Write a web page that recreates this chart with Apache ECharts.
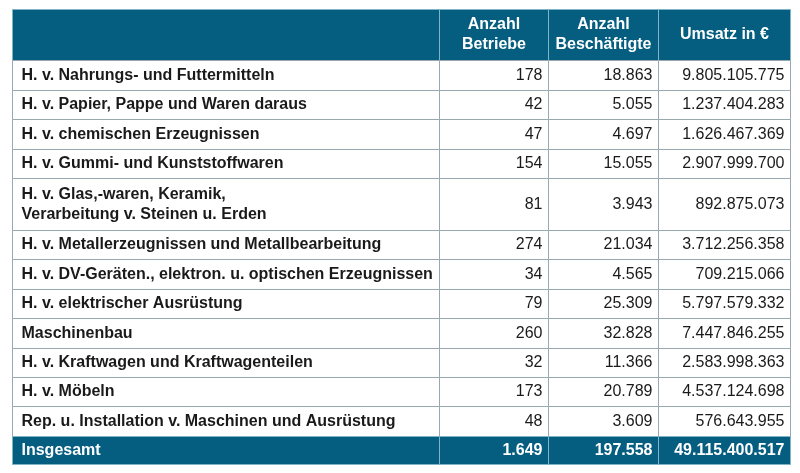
<!DOCTYPE html>
<html><head><meta charset="utf-8">
<script src="https://cdn.jsdelivr.net/npm/echarts@6/dist/echarts.min.js"></script>
<style>html,body{margin:0;padding:0;background:#fff}#c{width:800px;height:473px}</style>
</head><body><div id="c"></div>
<script>
// ---- data ----
const headers = ["", "Anzahl\nBetriebe", "Anzahl\nBeschäftigte", "Umsatz in €"];
const categories = [
  "H. v. Nahrungs- und Futtermitteln",
  "H. v. Papier, Pappe und Waren daraus",
  "H. v. chemischen Erzeugnissen",
  "H. v. Gummi- und Kunststoffwaren",
  "H. v. Glas,-waren, Keramik,\nVerarbeitung v. Steinen u. Erden",
  "H. v. Metallerzeugnissen und Metallbearbeitung",
  "H. v. DV-Geräten., elektron. u. optischen Erzeugnissen",
  "H. v. elektrischer Ausrüstung",
  "Maschinenbau",
  "H. v. Kraftwagen und Kraftwagenteilen",
  "H. v. Möbeln",
  "Rep. u. Installation v. Maschinen und Ausrüstung"
];
const betriebe = [178, 42, 47, 154, 81, 274, 34, 79, 260, 32, 173, 48];
const beschaeftigte = [18863, 5055, 4697, 15055, 3943, 21034, 4565, 25309, 32828, 11366, 20789, 3609];
const umsatz = [9805105775, 1237404283, 1626467369, 2907999700, 892875073, 3712256358, 709215066, 5797579332, 7447846255, 2583998363, 4537124698, 576643955];
const totalLabel = "Insgesamt";
const totals = [1649, 197558, 49115400517];

// ---- layout ----
const colWidths = [427, 108.7, 110, 131.6];
const colStart = [0];
colWidths.forEach(w => colStart.push(colStart[colStart.length - 1] + w));

function fmt(n) { return String(n).replace(/\B(?=(\d{3})+(?!\d))/g, '.'); }

// rows: header, body, total
const rows = [];
rows.push({ kind: 'header', cells: headers });
categories.forEach((c, i) => rows.push({ kind: 'body', cells: [c, fmt(betriebe[i]), fmt(beschaeftigte[i]), fmt(umsatz[i])] }));
rows.push({ kind: 'total', cells: [totalLabel, fmt(totals[0]), fmt(totals[1]), fmt(totals[2])] });

function rowUnits(row) {
  const lines = Math.max.apply(null, row.cells.map(t => t.split('\n').length));
  if (row.kind === 'total') return 0.95;
  return lines > 1 ? 1.74 : 1;
}
const rowStart = [0];
rows.forEach(r => rowStart.push(rowStart[rowStart.length - 1] + rowUnits(r)));

const cellData = [];
rows.forEach((r, ri) => r.cells.forEach((t, ci) => cellData.push([ci, ri])));

const HEAD = '#055e80';
const FONT = '"Liberation Sans", Arial, sans-serif';

const chart = echarts.init(document.getElementById('c'), null, { renderer: 'canvas' });
chart.setOption({
  animation: false,
  backgroundColor: '#ffffff',
  grid: { left: 12, top: 9, width: 777.5, height: 455 },
  xAxis: { type: 'value', min: 0, max: colStart[colStart.length - 1], show: false },
  yAxis: { type: 'value', min: 0, max: rowStart[rowStart.length - 1], inverse: true, show: false },
  series: [{
    type: 'custom',
    coordinateSystem: 'cartesian2d',
    data: cellData,
    renderItem: function (params, api) {
      const c = api.value(0), r = api.value(1);
      const row = rows[r];
      const p0 = api.coord([colStart[c], rowStart[r]]);
      const p1 = api.coord([colStart[c + 1], rowStart[r + 1]]);
      const x = Math.round(p0[0]) + 0.5, y = Math.round(p0[1]) + 0.5;
      const w = Math.round(p1[0]) - Math.round(p0[0]);
      const h = Math.round(p1[1]) - Math.round(p0[1]);
      const dark = row.kind !== 'body';
      const children = [{
        type: 'rect',
        shape: { x: x, y: y, width: w, height: h },
        style: { fill: dark ? HEAD : '#ffffff', stroke: dark ? '#7fb3c8' : '#97a8ae', lineWidth: 1 }
      }];
      const txt = row.cells[c];
      let tx, align;
      if (row.kind === 'header') { tx = x + w / 2; align = 'center'; }
      else if (c === 0) { tx = x + 9; align = 'left'; }
      else { tx = x + w - 6; align = 'right'; }
      children.push({
        type: 'text',
        style: {
          x: tx, y: y + h / 2,
          text: txt,
          align: align, verticalAlign: 'middle',
          font: ((dark || c === 0) ? 'bold ' : '') + '16px ' + FONT,
          lineHeight: 20,
          fill: dark ? '#ffffff' : '#1a1a1a'
        }
      });
      return { type: 'group', children: children };
    }
  }]
});
</script>
</body></html>
